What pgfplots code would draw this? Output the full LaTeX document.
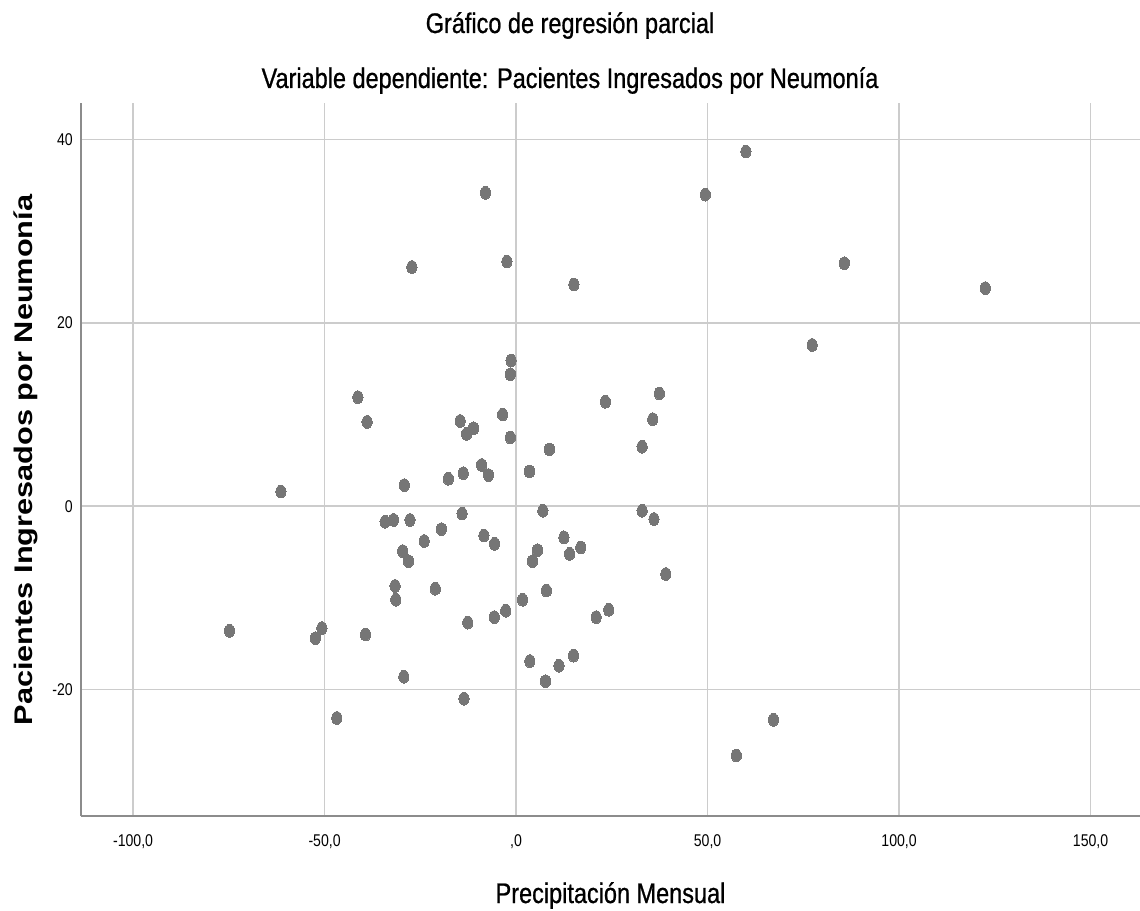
\documentclass[border=0pt]{standalone}
\usepackage{pgfplots}
\pgfplotsset{compat=1.18}
\usepackage{pgfplotstable}
\usepackage{fontspec}
\setmainfont{Liberation Sans}
\newfontfamily\narrowfont[FakeStretch=0.83]{Liberation Sans}
\newfontfamily\narrowtitlefont[FakeStretch=0.83, FakeBold=0.8]{Liberation Sans}
\definecolor{markgray}{RGB}{118,118,118}
\definecolor{gridgray}{RGB}{204,204,204}
\definecolor{axisgray}{RGB}{140,140,140}
\newcommand{\tickfont}{\narrowfont\fontsize{17}{20}\selectfont}
\newcommand{\titlefont}{\narrowtitlefont\fontsize{28.3}{32}\selectfont}

\pgfplotstableread{
x y
60.0 38.7
49.4 34.0
85.7 26.5
122.5 23.8
77.3 17.6
37.4 12.3
35.7 9.5
32.9 6.5
32.9 -0.5
36.0 -1.4
39.1 -7.4
67.2 -23.3
57.5 -27.2
-8.0 34.2
-27.2 26.1
-2.4 26.7
15.1 24.2
-41.3 11.9
-38.9 9.2
-61.4 1.6
-1.3 15.9
-1.5 14.4
-14.6 9.3
-11.1 8.5
-12.9 7.9
-3.5 10.0
-1.5 7.5
8.7 6.2
-9.0 4.5
-7.2 3.4
-13.8 3.6
-17.7 3.0
-29.2 2.3
3.5 3.8
7.0 -0.5
-14.1 -0.8
-34.2 -1.7
-32.0 -1.5
-27.7 -1.5
-19.5 -2.5
-24.0 -3.8
-8.4 -3.2
-5.6 -4.1
5.6 -4.8
4.3 -6.0
-29.6 -4.9
-28.1 -6.0
-31.6 -8.7
-31.4 -10.2
-21.1 -9.0
7.9 -9.2
1.7 -10.2
-2.7 -11.4
-5.7 -12.1
-12.6 -12.7
-39.3 -14.0
-50.7 -13.3
-52.4 -14.4
-74.8 -13.6
3.6 -16.9
7.7 -19.1
-29.3 -18.6
-13.6 -21.0
-46.8 -23.1
12.5 -3.4
16.9 -4.5
14.0 -5.2
20.9 -12.1
24.2 -11.3
11.2 -17.4
15.0 -16.3
23.3 11.4
}\datatable

\begin{document}
\begin{tikzpicture}
\path[use as bounding box] (0pt,0pt) rectangle (1140pt,910pt);
\begin{axis}[
  at={(81pt,94pt)}, anchor=south west,
  width=1059pt, height=713pt, scale only axis,
  xmin=-113.6, xmax=162.9,
  ymin=-33.8, ymax=44.0,
  axis lines*=left,
  axis line style={-, color=axisgray, line width=2pt},
  xtick={-100,-50,0,50,100,150},
  xticklabels={{-100,0},{-50,0},{,0},{50,0},{100,0},{150,0}},
  ytick={-20,0,20,40},
  yticklabels={{-20},{0},{20},{40}},
  major tick length=0pt,
  grid=major,
  major grid style={color=gridgray, line width=1.5pt},
  x tick label style={font=\tickfont, anchor=north, inner sep=0pt, yshift=-18pt},
  y tick label style={font=\tickfont, anchor=east, inner sep=0pt, xshift=-8pt},
  clip=false,
]
\addplot[color=markgray, only marks, mark=*, mark size=6.4pt,
  mark options={draw=markgray, fill=markgray, line width=0pt, xscale=0.8}] table[x=x, y=y] {\datatable};
\end{axis}
\node[anchor=base, font=\titlefont] at (570pt,877pt) {Gráfico de regresión parcial};
\node[anchor=base, font=\titlefont] at (570pt,822pt) {Variable dependiente: Pacientes Ingresados por Neumonía};
\node[anchor=base, font=\titlefont] at (610.5pt,7pt) {Precipitación Mensual};
\node[rotate=90, inner sep=0pt] at (26pt,450pt) {\scalebox{1}[0.83]{\fontsize{30.7}{34}\selectfont\bfseries Pacientes Ingresados por Neumonía}};
\end{tikzpicture}
\end{document}
